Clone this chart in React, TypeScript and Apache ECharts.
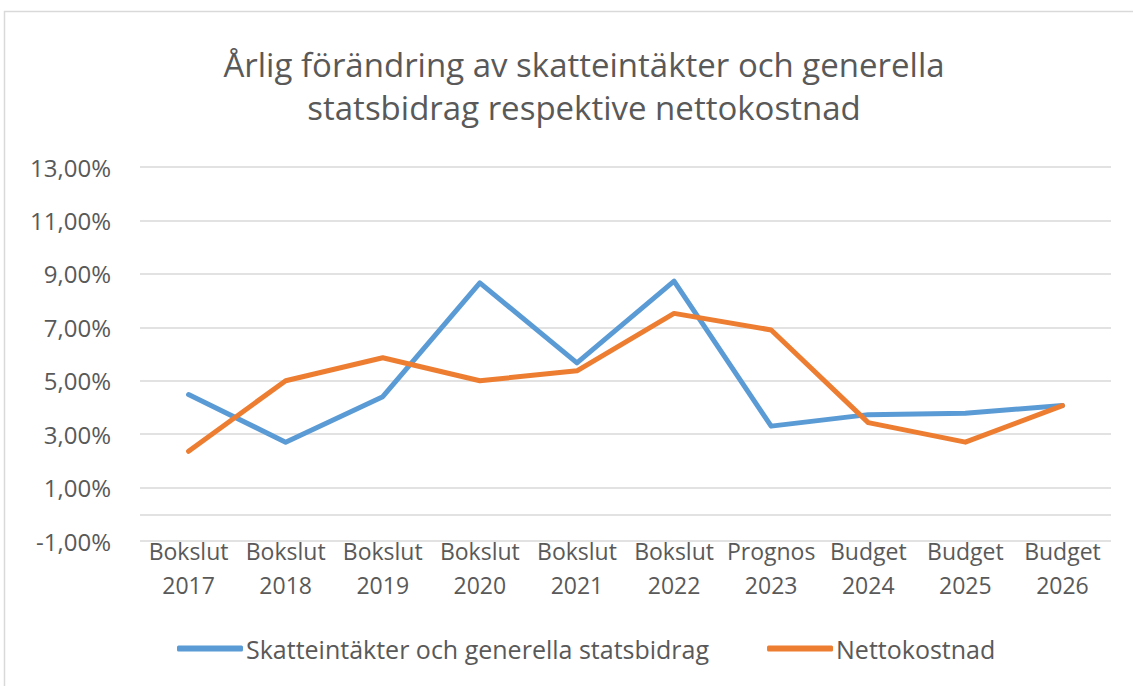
import React, { useEffect, useRef } from "react";
import * as echarts from "echarts";

const titleLines = [
  "Årlig förändring av skatteintäkter och generella",
  "statsbidrag respektive nettokostnad",
];
const categories = [
  "Bokslut\n2017",
  "Bokslut\n2018",
  "Bokslut\n2019",
  "Bokslut\n2020",
  "Bokslut\n2021",
  "Bokslut\n2022",
  "Prognos\n2023",
  "Budget\n2024",
  "Budget\n2025",
  "Budget\n2026",
];
const seriesNames = ["Skatteintäkter och generella statsbidrag", "Nettokostnad"];
const skatteintakter = [4.48, 2.7, 4.4, 8.66, 5.67, 8.73, 3.3, 3.73, 3.78, 4.07];
const nettokostnad = [2.36, 5.0, 5.86, 5.0, 5.37, 7.52, 6.9, 3.43, 2.7, 4.07];
const yMin = -1;
const yMax = 13;

const FONT = "'Open Sans', sans-serif";
const GRAY = "#595959";
const GRID = "#d9d9d9";

export default function App() {
  const ref = useRef<HTMLDivElement>(null);
  useEffect(() => {
    if (!ref.current) return;
    const chart = echarts.init(ref.current, undefined, { renderer: "svg" });
    // split lines at -1,0,1,...,13 ; show odd values and the zero line
    const lineColors: string[] = [];
    for (let v = yMin; v <= yMax; v++) {
      lineColors.push(v % 2 !== 0 || v === 0 ? GRID : "rgba(0,0,0,0)");
    }
    chart.setOption({
      animation: false,
      backgroundColor: "#ffffff",
      title: {
        text: titleLines.join("\n"),
        left: 579,
        textAlign: "center",
        top: 38,
        textStyle: {
          fontFamily: FONT,
          fontSize: 33,
          fontWeight: "normal",
          color: GRAY,
          lineHeight: 43,
        },
      },
      legend: {
        top: 631,
        left: 172,
        itemWidth: 66,
        itemHeight: 6,
        itemGap: 58,
        icon: "roundRect",
        textStyle: { fontFamily: FONT, fontSize: 25, color: GRAY, padding: [0, 0, 0, -2] },
        data: seriesNames,
      },
      grid: { left: 140, right: 22, top: 167, bottom: 145, containLabel: false },
      xAxis: {
        type: "category",
        data: categories,
        boundaryGap: true,
        axisLine: { show: false, onZero: false },
        axisTick: { show: false },
        axisLabel: {
          fontFamily: FONT,
          fontSize: 23,
          color: GRAY,
          lineHeight: 34,
          margin: -7,
          interval: 0,
        },
      },
      yAxis: {
        type: "value",
        min: yMin,
        max: yMax,
        interval: 1,
        axisLine: { show: false },
        axisTick: { show: false },
        splitLine: { show: true, lineStyle: { color: lineColors, width: 1.5 } },
        axisLabel: {
          fontFamily: FONT,
          fontSize: 24,
          color: GRAY,
          margin: 29,
          formatter: (v: number) =>
            Math.abs(v % 2) === 1 ? v.toFixed(2).replace(".", ",") + "%" : "",
        },
      },
      series: [
        {
          name: seriesNames[0],
          type: "line",
          data: skatteintakter,
          symbol: "none",
          lineStyle: { color: "#5b9bd5", width: 5, join: "round", cap: "round" },
          itemStyle: { color: "#5b9bd5" },
        },
        {
          name: seriesNames[1],
          type: "line",
          data: nettokostnad,
          symbol: "none",
          lineStyle: { color: "#ed7d31", width: 5, join: "round", cap: "round" },
          itemStyle: { color: "#ed7d31" },
        },
      ],
      graphic: [
        {
          type: "polyline",
          shape: { points: [[4.5, 686], [4.5, 11.5], [1133, 11.5]] },
          style: { fill: "none", stroke: "#d9d9d9", lineWidth: 1.5 },
          silent: true,
          z: -1,
        },
      ],
    });
    return () => chart.dispose();
  }, []);
  return (
    <div
      ref={ref}
      style={{ position: "absolute", left: 0, top: 0, width: 1133, height: 686 }}
    />
  );
}
